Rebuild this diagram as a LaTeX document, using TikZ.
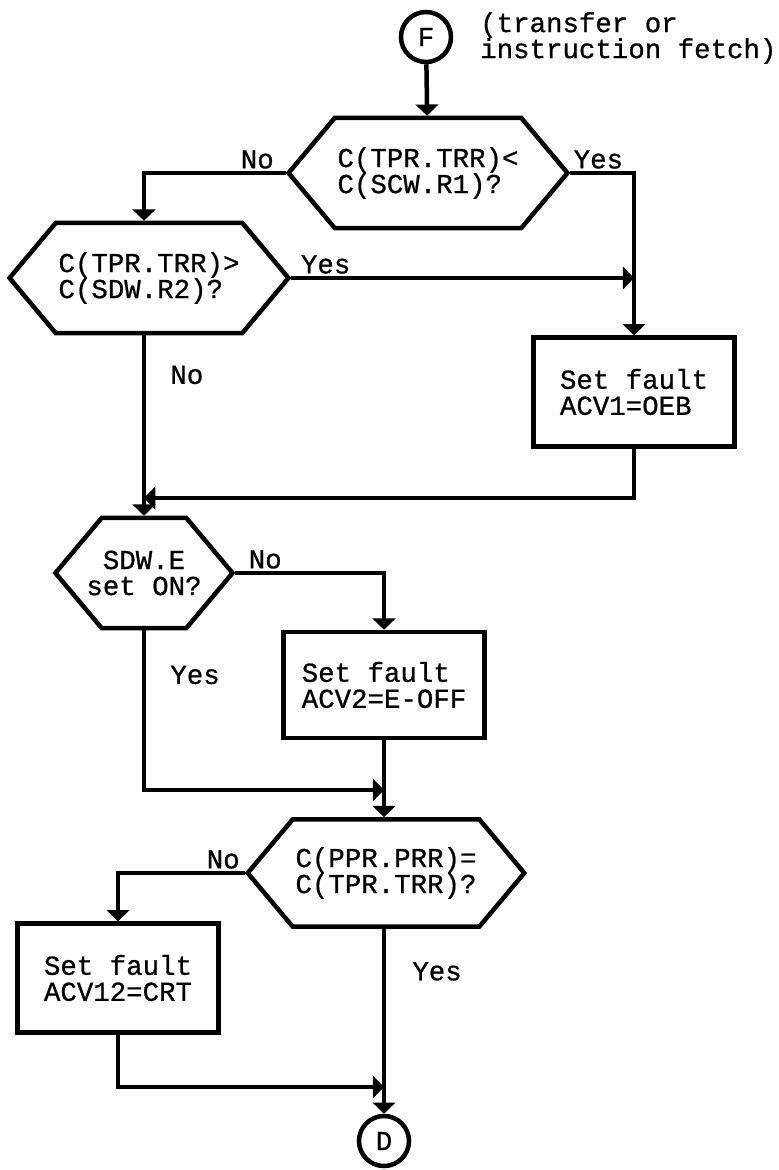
\documentclass[tikz,border=0pt]{standalone}
\usepackage{fontspec}
\setmonofont[FakeBold=0.8]{Liberation Mono}
\usetikzlibrary{positioning,arrows.meta,shapes.symbols}

\begin{document}
\begin{tikzpicture}[
  x=0.025cm, y=-0.025cm,
  font=\ttfamily\fontsize{19.5}{18.5}\selectfont,
  line width=3.2pt,
  arr/.style={-{Triangle[width=16pt,length=8pt]}},
  dec/.style={draw, signal, signal to=west and east, signal pointer angle=100, align=left, inner sep=2pt, minimum height=2.75cm},
  act/.style={draw, rectangle, minimum width=5.02cm, minimum height=2.72cm, align=left, inner sep=2pt},
  con/.style={draw, circle, minimum size=1.25cm, inner sep=0pt},
  lbl/.style={inner sep=1.5pt}
]
\useasboundingbox (0,0) rectangle (778,1170);

% entry and exit connectors
\node[con] (F) at (426,37) {F};
\node[align=left, anchor=west, inner sep=0pt] (note) at (478,38) {(transfer or\\instruction fetch)};
\node[con] (D) at (384,1141) {D};

% decisions
\node[dec, minimum width=6.78cm] (h1) at (428,173) {C(TPR.TRR)<\\C(SCW.R1)?};
\node[dec, minimum width=6.88cm] (h2) at (149,278) {C(TPR.TRR)>\\C(SDW.R2)?};
\node[dec, minimum width=4.38cm, inner xsep=-0.38cm, align=center] (h3) at (144,573) {SDW.E\\set ON?};
\node[dec, minimum width=6.83cm, minimum height=2.68cm] (h4) at (386,873) {C(PPR.PRR)=\\C(TPR.TRR)?};

% actions
\node[act] (b1) at (634,392) {Set fault\\ACV1=OEB};
\node[act, minimum height=2.65cm] (b2) at (384,685) {Set fault\\ACV2=E-OFF};
\node[act] (b3) at (118,978) {Set fault\\ACV12=CRT};

% merge points
\coordinate (m1) at (h3.north |- 0,498);
\coordinate (m2) at (b2.south |- 0,790);
\coordinate (m3) at (D.north |- 0,1087);

\draw[arr] (F) -- (h1);
\draw[arr] (h1.west) -| node[lbl, pos=0.1, above] {No} (h2.north -| h3.north);
\draw[arr] (h1.east) -| node[lbl, pos=0.22, above] {Yes} (b1.north);
\draw[arr] (h2.east) -- node[lbl, pos=0.1, above] {Yes} (h2.east -| b1.north);
\draw[arr] (h2.south -| h3.north) -- node[lbl, pos=0.22, right=0.55cm] {No} (h3.north);
\draw[arr] (b1.south) |- (m1);
\draw[arr] (h3.east) -| node[lbl, pos=0.1, above] {No} (b2.north);
\draw[arr] (h3.south) |- node[lbl, pos=0.14, right=0.55cm] {Yes} (m2);
\draw[arr] (b2.south) -- (b2.south |- h4.north);
\draw[arr] (h4.west) -| node[lbl, pos=0.085, above] {No} (b3.north);
\draw[arr] (h4.south -| D.north) -- node[lbl, pos=0.23, right=0.6cm] {Yes} (D.north);
\draw[arr] (b3.south) |- (m3);
\end{tikzpicture}
\end{document}
